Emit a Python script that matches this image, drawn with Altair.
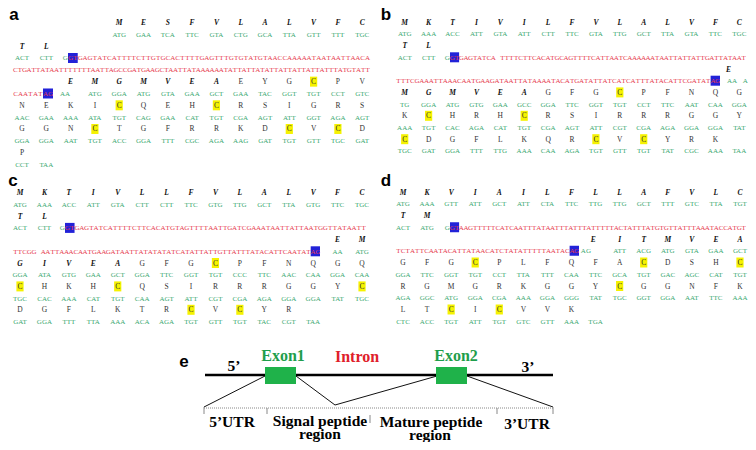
import altair as alt
import pandas as pd

# ---------------- sequence data ----------------
A_AA = [". . . . M E S F V L A L V F C", "T L", "", ". . E M G M V E A E Y G C P V",
        "N E K I C Q E H C R S I G R S", "G G N C T G F R R K D C V C D", "P"]
A_NT = [". . . . ATG GAA TCA TTC GTA CTG GCA TTA GTT TTT TGC", "ACT CTT", "",
        ". . AA ATG GGA ATG GTA GAA GCT GAA TAC GGT TGT CCT GTC",
        "AAC GAA AAA ATA TGT CAG GAA CAT TGT CGA AGT ATT GGT AGA AGT",
        "GGA GGA AAT TGT ACC GGA TTT CGC AGA AAG GAT TGT GTT TGC GAT",
        "CCT TAA"]
A_INTRON = ["GTGAGTATCATTTTCTTGTGCACTTTTGAGTTTGTGTATGTAACCAAAAATAATAATTAACA",
            "CTGATTATAATTTTTTTAATTAGCCGATGAAGCTAATTATAAAAAATATTATTATATTATTATTATTATTTATGTATT",
            "CAATATAG"]
A_SIGNAL = 20

B_AA = ["M K T I V I L F V L A L V F C", "T L", ". . . . . . . . . . . . . E",
        "M G M V E A G F G C P F N Q G", "K C H R H C R S I R R R G G Y",
        "C D G F L K Q R C V C Y R K"]
B_NT = ["ATG AAA ACC ATT GTA ATT CTT TTC GTA TTG GCT TTA GTA TTC TGC", "ACT CTT",
        ". . . . . . . . . . . . . AA A",
        "TG GGA ATG GTG GAA GCC GGA TTC GGT TGT CCT TTC AAT CAA GGA",
        "AAA TGT CAC AGA CAT TGT CGA AGT ATT CGT CGA AGA GGA GGA TAT",
        "TGC GAT GGA TTT TTG AAA CAA AGA TGT GTT TGT TAT CGC AAA TAA"]
B_INTRON = ["GTGAGTATCA TTTTCTTCACATGCAGTTTTCATTAATCAAAAAATAATTATTATTGATTATAAT",
            "TTTCGAAATTAAACAATGAAGATAATTATAAAATACATGATATTATCATCATTTATACATTCGATATAG"]
B_SIGNAL = 24

C_AA = ["M K T I V L L F V L A L V F C", "T L", ". . . . . . . . . . . . . E M",
        "G I V E A G F G C P F N Q G Q", "C H K H C Q S I R R R G G Y C",
        "D G F L K T R C V C Y R"]
C_NT = ["ATG AAA ACC ATT GTA CTT CTT TTC GTG TTG GCT TTA GTG TTC TGC", "ACT CTT",
        ". . . . . . . . . . . . . AA ATG",
        "GGA ATA GTG GAA GCT GGA TTC GGT TGT CCC TTC AAC CAA GGA CAA",
        "TGC CAC AAA CAT TGT CAA AGT ATT CGT CGA AGA GGA GGA TAT TGC",
        "GAT GGA TTT TTA AAA ACA AGA TGT GTT TGT TAC CGT TAA"]
C_INTRON = ["GTGAGTATCATTTTCTTCACATGTAGTTTTAATTGATCGAAATAATTATTAATGGTTATAATT",
            "TTCGG AATTAAACAATGAAGATAATTATATATATCATATTATTGTTATTTATACATTCAATATAG"]
C_SIGNAL = 24

D_AA = ["M K V I A I L F L L A F V L C", "T M", ". . . . . . . . E I T M V E A",
        "G F G C P L F Q F A C D S H C", "R G M G R K G G Y C G G N F K",
        "L T C I C V V K"]
D_NT = ["ATG AAA GTT ATT GCT ATT CTA TTC TTG TTG GCT TTT GTC TTA TGT", "ACT ATG",
        ". . . . . . . . AG ATT ACG ATG GTA GAA GCT",
        "GGA TTC GGT TGT CCT TTA TTT CAA TTC GCA TGT GAC AGC CAT TGT",
        "AGA GGC ATG GGA CGA AAA GGA GGG TAT TGC GGT GGA AAT TTC AAA",
        "CTC ACC TGT ATT TGT GTC GTT AAA TGA"]
D_INTRON = ["GTAAGTTTTTCATCAATTTATAATTTATTTATTTTTACTATTTATGTGTTATTTAAATACCATGT",
            "TCTATTCAATACATTATAACATCTATATTTTTAATACAG"]
D_SIGNAL = 24

PANEL_LABELS = ["a", "b", "c", "d", "e"]
GENE_PARTS = ["Exon1", "Intron", "Exon2"]
END_LABELS = ["5\u2019", "3\u2019"]
REGION_LABELS = ["5\u2019UTR", "Signal peptide", "region", "Mature peptide", "region", "3\u2019UTR"]

# ---------------- layout ----------------
PANELS = {
    "a": dict(aa=A_AA, nt=A_NT, intron=A_INTRON, signal=A_SIGNAL, intron_rows=[1, 2, 3]),
    "b": dict(aa=B_AA, nt=B_NT, intron=B_INTRON, signal=B_SIGNAL, intron_rows=[1, 2]),
    "c": dict(aa=C_AA, nt=C_NT, intron=C_INTRON, signal=C_SIGNAL, intron_rows=[1, 2]),
    "d": dict(aa=D_AA, nt=D_NT, intron=D_INTRON, signal=D_SIGNAL, intron_rows=[1, 2]),
}
LAYOUT = {
    "a": dict(x0=22, dx=24.3, y0=23, pitch=11.83, label=(14, 15)),
    "b": dict(x0=404.7, dx=23.9, y0=22.7, pitch=11.7, label=(386, 15)),
    "c": dict(x0=20, dx=24.43, y0=193.3, pitch=11.7, label=(13, 181)),
    "d": dict(x0=403, dx=24.07, y0=192.5, pitch=11.75, label=(386, 181)),
}
INTRON_SPAN = {
    "a": [(68, 370), (13, 370), (13, 53)],
    "b": [(450, 746), (396, 720)],
    "c": [(65, 366), (13, 320)],
    "d": [(450, 746), (396, 579)],
}
COL_OVERRIDE = {
    ("a", 3): {("nt", 2): 1.77},
    ("b", 2): {("aa", 13): 13.55, ("nt", 13): 13.7, ("nt", 14): 14.25},
    ("d", 2): {("nt", 8): 7.6, ("aa", 8): 7.9},
}

nt_rows, sig_rows, mat_rows, hl_rows, red_rows, box_rows, lab_rows = [], [], [], [], [], [], []
for p, P in PANELS.items():
    L = LAYOUT[p]
    lab_rows.append(dict(x=L["label"][0], y=L["label"][1], t=p))
    line = 0
    aa_count = 0
    for r, (aa, nt) in enumerate(zip(P["aa"], P["nt"])):
        has_aa = aa.strip() != ""
        y_aa = None
        if has_aa:
            y_aa = L["y0"] + line * L["pitch"]
            line += 1
        y_nt = L["y0"] + line * L["pitch"]
        line += 1
        ov = COL_OVERRIDE.get((p, r), {})
        for c, tok in enumerate(aa.split()):
            if tok == ".":
                continue
            x = L["x0"] + L["dx"] * ov.get(("aa", c), c)
            if aa_count < P["signal"]:
                sig_rows.append(dict(x=x, y=y_aa, t=tok))
            else:
                mat_rows.append(dict(x=x, y=y_aa, t=tok))
                if tok == "C":
                    hl_rows.append(dict(x1=x - 3.6, x2=x + 3.6, y1=y_aa - 5.5, y2=y_aa + 4.5))
            aa_count += 1
        for c, tok in enumerate(nt.split()):
            if tok == ".":
                continue
            x = L["x0"] + L["dx"] * ov.get(("nt", c), c)
            nt_rows.append(dict(x=x, y=y_nt, t=tok))
        if r in P["intron_rows"]:
            k = P["intron_rows"].index(r)
            seq = P["intron"][k]
            x1, x2 = INTRON_SPAN[p][k]
            w = (x2 - x1) / len(seq)
            for i, ch in enumerate(seq):
                if ch != " ":
                    red_rows.append(dict(x=x1 + w * (i + 0.5), y=y_nt, t=ch))
            if k == 0:
                box_rows.append(dict(x1=x1, x2=x1 + 2 * w, y1=y_nt - 5.5, y2=y_nt + 4.5))
                nt_rows.append(dict(x=x1 - 2.8, y=y_nt, t="G"))
            if k == len(P["intron"]) - 1:
                box_rows.append(dict(x1=x2 - 2 * w, x2=x2, y1=y_nt - 5.5, y2=y_nt + 4.5))

# gene structure (panel e)
lab_rows.append(dict(x=184, y=362, t="e"))
E_MAIN = [dict(x1=205, x2=553, y1=375, y2=375)]
E_DIAG = [dict(x1=265, y1=376, x2=204, y2=407), dict(x1=296, y1=376, x2=335, y2=405),
          dict(x1=437, y1=376, x2=335, y2=405), dict(x1=467, y1=376, x2=553, y2=407)]
E_DOT = [dict(x1=204, x2=553, y1=408, y2=408)]
E_TICKS = [dict(x1=204, x2=204, y1=407, y2=414), dict(x1=267, x2=267, y1=408, y2=414),
           dict(x1=497, x2=497, y1=408, y2=414), dict(x1=553, x2=553, y1=407, y2=414),
           dict(x1=370, x2=370, y1=415, y2=423)]
E_EXONS = [dict(x1=265, x2=296, y1=367, y2=384), dict(x1=436, x2=467, y1=367, y2=384)]
E_GREEN_TXT = [dict(x=283, y=356, t=GENE_PARTS[0]), dict(x=456, y=356, t=GENE_PARTS[2])]
E_RED_TXT = [dict(x=357, y=357, t=GENE_PARTS[1])]
E_BLACK_TXT = [dict(x=234, y=366, t=END_LABELS[0]), dict(x=528, y=367, t=END_LABELS[1]),
               dict(x=232, y=422, t=REGION_LABELS[0]), dict(x=320, y=421, t=REGION_LABELS[1]),
               dict(x=320, y=434, t=REGION_LABELS[2]), dict(x=431, y=422, t=REGION_LABELS[3]),
               dict(x=430, y=435, t=REGION_LABELS[4]), dict(x=527, y=424, t=REGION_LABELS[5])]

# ---------------- chart ----------------
xs = alt.Scale(domain=[8, 748], nice=False, zero=False)
ys = alt.Scale(domain=[8, 442], nice=False, zero=False, reverse=True)


def X(f="x"):
    return alt.X(f"{f}:Q", scale=xs, axis=None)


def Y(f="y"):
    return alt.Y(f"{f}:Q", scale=ys, axis=None)


def rects(rows, color):
    return alt.Chart(pd.DataFrame(rows)).mark_rect(color=color).encode(
        x=X("x1"), x2=alt.X2("x2"), y=Y("y1"), y2=alt.Y2("y2"))


def rules(rows, color, width, dash=None):
    kw = dict(color=color, strokeWidth=width)
    if dash:
        kw["strokeDash"] = dash
    return alt.Chart(pd.DataFrame(rows)).mark_rule(**kw).encode(
        x=X("x1"), x2=alt.X2("x2"), y=Y("y1"), y2=alt.Y2("y2"))


def texts(rows, color, size, font="Liberation Serif", weight="normal", style="normal"):
    return alt.Chart(pd.DataFrame(rows)).mark_text(
        color=color, fontSize=size, font=font, fontWeight=weight, fontStyle=style,
        align="center", baseline="middle").encode(x=X(), y=Y(), text="t:N")


layers = [
    rects(hl_rows, "#f5f200"),
    rects(box_rows, "#2222d8"),
    texts(nt_rows, "#3aa870", 7),
    texts(red_rows, "#e63a4e", 7),
    texts(sig_rows, "#111111", 7.5, weight="bold", style="italic"),
    texts(mat_rows, "#333333", 7.5),
    texts(lab_rows, "#000000", 17, font="Liberation Sans", weight="bold"),
    rules(E_DIAG, "#111111", 1),
    rules(E_DOT, "#888888", 1, dash=[1, 1]),
    rules(E_TICKS, "#888888", 1),
    rules(E_MAIN, "#000000", 2.5),
    rects(E_EXONS, "#1fb24a"),
    texts(E_GREEN_TXT, "#1f9e4c", 16, weight="bold"),
    texts(E_RED_TXT, "#e0202a", 16, weight="bold"),
    texts(E_BLACK_TXT, "#000000", 15.5, weight="bold"),
]

chart = alt.layer(*layers).properties(
    width=740, height=434, padding=0,
    autosize=alt.AutoSizeParams(type="none"),
).configure_view(strokeWidth=0)

chart.save("out.html", embed_options={"renderer": "svg", "actions": False})
